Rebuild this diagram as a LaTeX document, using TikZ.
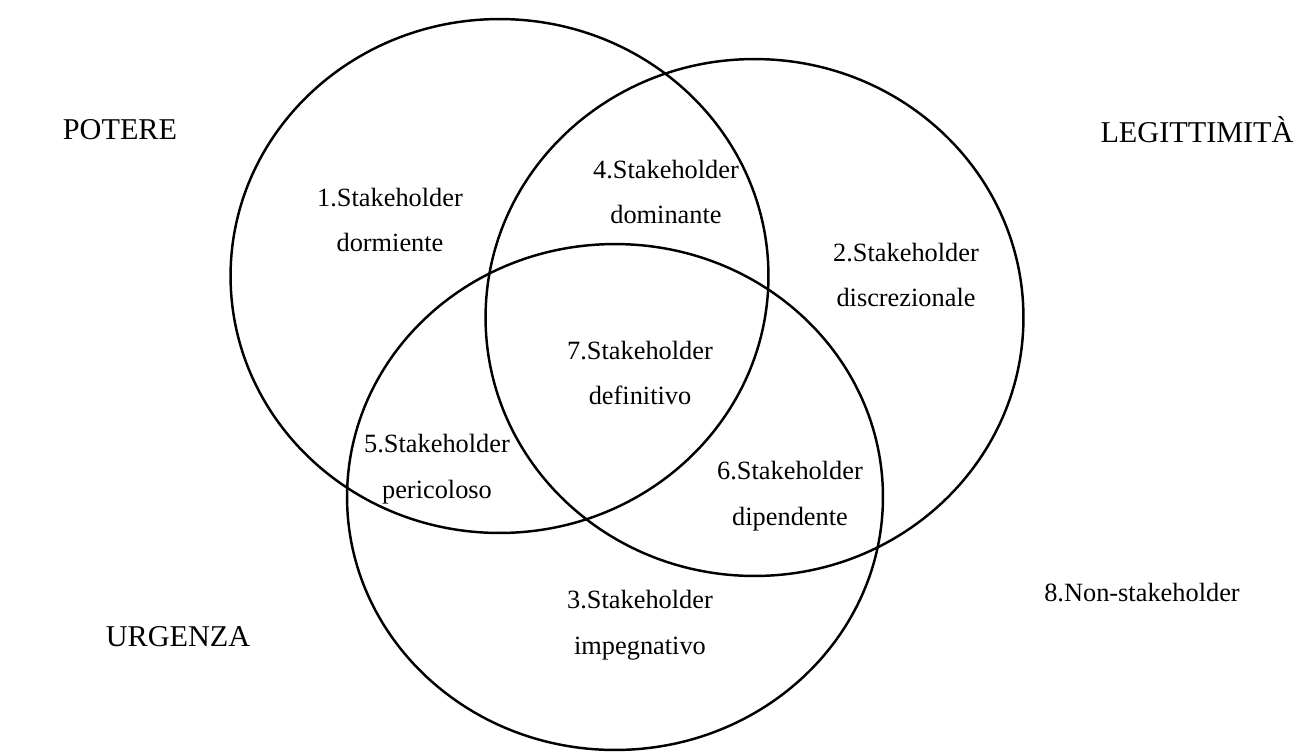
\documentclass[tikz,border=0pt]{standalone}
\usepackage{fontspec}
\setmainfont{Liberation Serif}
\usetikzlibrary{shapes.geometric}
\begin{document}
\begin{tikzpicture}[x=0.02cm,y=-0.02cm,
  setring/.style={draw=black,line width=1.4pt,ellipse,inner sep=0pt},
  region/.style={align=center,inner sep=0pt,font=\fontsize{15}{26}\selectfont},
  setname/.style={inner sep=0pt,font=\fontsize{17.2}{20}\selectfont}]
\useasboundingbox (0,0) rectangle (1300,751);
% the three attribute sets
\node[setring,minimum width=10.76cm,minimum height=10.28cm] (potere) at (499.5,276) {};
\node[setring,minimum width=10.76cm,minimum height=10.34cm] (legit) at (754.5,317.5) {};
\node[setring,minimum width=10.72cm,minimum height=10.12cm] (urgenza) at (615,497) {};
% set names
\node[setname] (tpot) at (120,130) {POTERE};
\node[setname] (tleg) at (1197,130) {LEGITTIMITÀ};
\node[setname] (turg) at (178,637) {URGENZA};
% stakeholder classes
\node[region] (s1) at (390,220) {1.Stakeholder\\dormiente};
\node[region] (s4) at (666,192) {4.Stakeholder\\dominante};
\node[region] (s2) at (906,275) {2.Stakeholder\\discrezionale};
\node[region] (s7) at (640,373) {7.Stakeholder\\definitivo};
\node[region] (s5) at (437,469) {5.Stakeholder\\pericoloso};
\node[region] (s6) at (790,496) {6.Stakeholder\\dipendente};
\node[region] (s3) at (640,625) {3.Stakeholder\\impegnativo};
\node[region] (s8) at (1142,593) {8.Non-stakeholder};
\end{tikzpicture}
\end{document}
